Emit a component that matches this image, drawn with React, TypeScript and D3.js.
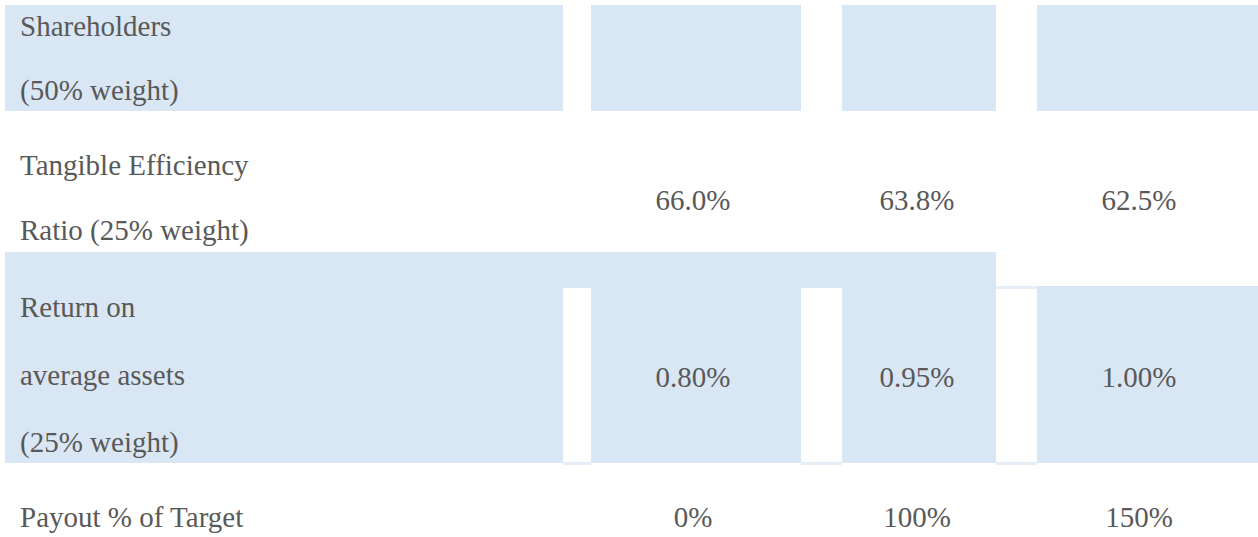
import React from "react";
import { scaleOrdinal } from "d3";

// goal levels (column keys) and the rows of the payout table
const levels = ["threshold", "target", "maximum"];
const shareholderLabel = ["Shareholders", "(50% weight)"];
const efficiencyLabel = ["Tangible Efficiency", "Ratio (25% weight)"];
const roaaLabel = ["Return on", "average assets", "(25% weight)"];
const payoutLabel = ["Payout % of Target"];
const efficiencyValues = ["66.0%", "63.8%", "62.5%"];
const roaaValues = ["0.80%", "0.95%", "1.00%"];
const payoutValues = ["0%", "100%", "150%"];

const W = 1258;
const H = 537;
const FILL = "#d9e7f4";
const EDGE = "#e6eef8";
const TEXT = "#595959";
const FONT = '"Liberation Serif", "Times New Roman", Times, serif';
const FS = 29;

export default function App() {
  // column layout: text centre and shaded cell extents per level
  const xCenter = scaleOrdinal<string, number>().domain(levels).range([693, 917, 1139]);
  const cellLeft = scaleOrdinal<string, number>().domain(levels).range([591, 842, 1037]);
  const cellRight = scaleOrdinal<string, number>().domain(levels).range([801, 996, 1258]);
  const gapLeft = scaleOrdinal<string, number>().domain(levels).range([563, 801, 996]);

  const labelX = 20;

  const rows = [
    { label: shareholderLabel, lines: [36, 100], values: null as string[] | null, valueY: 0 },
    { label: efficiencyLabel, lines: [175, 240], values: efficiencyValues, valueY: 210 },
    { label: roaaLabel, lines: [317, 385, 452], values: roaaValues, valueY: 387 },
    { label: payoutLabel, lines: [527], values: payoutValues, valueY: 527 },
  ];

  return (
    <svg
      width={W}
      height={H}
      style={{ position: "absolute", left: 0, top: 0, background: "#fff", fontFamily: FONT, fontSize: FS }}
    >
      {/* shareholders row: separate shaded cells */}
      <rect x={5} y={5} width={563 - 5} height={106} fill={FILL} />
      {levels.map((k) => (
        <rect key={"sh" + k} x={cellLeft(k)} y={5} width={cellRight(k) - cellLeft(k)} height={106} fill={FILL} />
      ))}

      {/* return on average assets row */}
      <rect x={5} y={252} width={996 - 5} height={463 - 252} fill={FILL} />
      <rect x={996} y={286} width={W - 996} height={463 - 286} fill={FILL} />
      {levels.map((k) => {
        const top = k === "maximum" ? 289 : 288;
        return (
          <g key={"gap" + k}>
            {k === "maximum" && (
              <rect x={gapLeft(k)} y={286} width={cellLeft(k) - gapLeft(k)} height={3} fill={EDGE} />
            )}
            <rect x={gapLeft(k)} y={top} width={cellLeft(k) - gapLeft(k)} height={462 - top} fill="#fff" />
            <rect x={gapLeft(k)} y={462} width={cellLeft(k) - gapLeft(k)} height={3} fill={EDGE} />
          </g>
        );
      })}

      {rows.map((r, i) => (
        <g key={"row" + i} fill={TEXT}>
          {r.label.map((t, j) => (
            <text key={j} x={labelX} y={r.lines[j]}>
              {t}
            </text>
          ))}
          {r.values &&
            r.values.map((v, j) => (
              <text key={"v" + j} x={xCenter(levels[j])} y={r.valueY} textAnchor="middle">
                {v}
              </text>
            ))}
        </g>
      ))}
    </svg>
  );
}
